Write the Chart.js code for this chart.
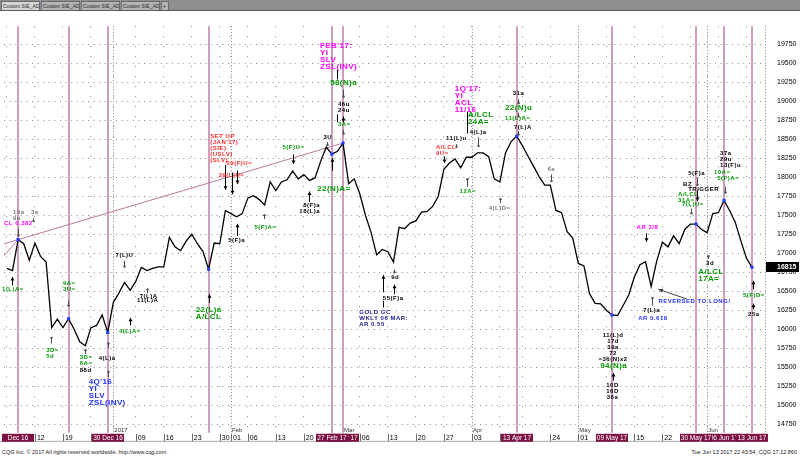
<!DOCTYPE html>
<html>
<head>
<meta charset="utf-8">
<script src="https://cdn.jsdelivr.net/npm/chart.js"></script>
<style>
html, body { margin: 0; padding: 0; background: #fff; }
#wrap { position: relative; width: 800px; height: 456px; overflow: hidden; font-family: Arial, "Liberation Sans", sans-serif; }
#tabs { position: absolute; left: 0; top: 0; width: 800px; height: 10px; background: #8e8e8e; border-bottom: 1px solid #5c5c5c; }
.tab { position: absolute; top: 1px; height: 9px; background: #b4b4b4; color: #2a2a2a; font-size: 5px; line-height: 9px; padding-left: 1px; box-sizing: border-box; border: 1px solid #6a6a6a; border-bottom: none; white-space: nowrap; overflow: hidden; }
.tab.sel { background: #d6d6d6; }
#c { position: absolute; left: 0; top: 11px; }
.foot { position: absolute; top: 449px; font-size: 5.5px; color: #222; white-space: nowrap; }
</style>
</head>
<body>
<div id="wrap">
  <div id="tabs">
    <div class="tab sel" style="left:1px;width:39px">Custom SIE_ADC</div>
    <div class="tab" style="left:41px;width:39px">Custom SIE_ADC</div>
    <div class="tab" style="left:81px;width:39px">Custom SIE_ADC</div>
    <div class="tab" style="left:121px;width:39px">Custom SIE_ADC</div>
    <div class="tab" style="left:161px;width:8px">+</div>
  </div>
  <canvas id="c" width="800" height="437"></canvas>
  <div class="foot" style="left:2px">CQG Inc. © 2017 All rights reserved worldwide. http://www.cqg.com</div>
  <div class="foot" style="right:3px">Tue Jun 13 2017 22:43:54, CQG 17.12.860</div>
</div>
<script>
// trading days (Dec 2016 - Jun 2017), MM/DD
const days = [
  '12/05','12/06','12/07','12/08','12/09','12/12','12/13','12/14','12/15','12/16',
  '12/19','12/20','12/21','12/22','12/23','12/27','12/28','12/29','12/30',
  '01/03','01/04','01/05','01/06','01/09','01/10','01/11','01/12','01/13',
  '01/16','01/17','01/18','01/19','01/20','01/23','01/24','01/25','01/26','01/27','01/30','01/31',
  '02/01','02/02','02/03','02/06','02/07','02/08','02/09','02/10','02/13','02/14','02/15','02/16','02/17',
  '02/20','02/21','02/22','02/23','02/24','02/27','02/28',
  '03/01','03/02','03/03','03/06','03/07','03/08','03/09','03/10','03/13','03/14','03/15','03/16','03/17',
  '03/20','03/21','03/22','03/23','03/24','03/27','03/28','03/29','03/30','03/31',
  '04/03','04/04','04/05','04/06','04/07','04/10','04/11','04/12','04/13',
  '04/17','04/18','04/19','04/20','04/21','04/24','04/25','04/26','04/27','04/28',
  '05/01','05/02','05/03','05/04','05/05','05/08','05/09','05/10','05/11','05/12',
  '05/15','05/16','05/17','05/18','05/19','05/22','05/23','05/24','05/25','05/26','05/29','05/30','05/31',
  '06/01','06/02','06/05','06/06','06/07','06/08','06/09','06/12','06/13'
];

// daily close
const closes = [
  16800, 16771, 17179, 17125, 16909, 17134, 16959, 16884, 16021, 16134,
  16021, 16138, 16000, 15834, 15784, 16021, 16050, 16188, 15959,
  16354, 16479, 16616, 16513, 16630, 16813, 16771, 16800, 16821,
  16821, 17209, 17084, 17034, 17159, 17250, 17125, 17021, 16791, 17134, 17125, 17563,
  17521, 17479, 17521, 17725, 17758, 17709, 17634, 17938, 17825, 17938, 17966, 18084, 17979,
  18034, 17959, 17991, 18209, 18396, 18304, 18341,
  18450, 17916, 17979, 17780, 17500, 17275, 16979, 17050, 17021, 16884, 17341, 17325, 17396,
  17425, 17541, 17550, 17616, 17750, 18104, 18188, 18241, 18125, 18263,
  18263, 18321, 18321, 18271, 17979, 17938, 18320, 18470, 18541,
  18417, 18279, 18146, 18009, 17896, 17896, 17563, 17534, 17284, 17200,
  16866, 16834, 16466, 16341, 16334, 16250, 16188, 16181, 16313, 16450,
  16688, 16850, 16888, 16563, 16900, 17146, 17084, 17229, 17125, 17313, 17384, 17384, 17313,
  17271, 17521, 17534, 17696, 17563, 17409, 17166, 16938, 16815
];

const markedDays = ['12/07','12/20','12/30','01/26','02/27','03/01','04/13','05/09','05/30','06/06','06/13'];
const boxedDays = ['12/07','12/30','02/27','03/01','04/13','05/09','05/30','06/06','06/13'];
const boxLabels = ['Dec 16','30 Dec 16','27 Feb 17','01 Mar 17','13 Apr 17','09 May 17','30 May 17','06 Jun 17','13 Jun 17'];
const monthLabels = ['2017','Feb','Mar','Apr','May','Jun'];
const priceTicks = [14750, 15000, 15250, 15500, 15750, 16000, 16250, 16500, 16750, 17000, 17250,
  17500, 17750, 18000, 18250, 18500, 18750, 19000, 19250, 19500, 19750];
const trendAnchors = ['12/07', '03/01'];
const earlyTrendStart = 16926; // one bar before the first day
const earlyTrendEnd = '12/07';

// annotations: [bar, price, text, colour, size, align]
const notes = [
  [1.09, 17537, '19a\n9u', 's', 'S'],
  [4.29, 17537, '3a', 's', 'S'],
  [-0.52, 17387, 'CL 0.382', 'm', 'S'],
  [36.3, 18537, "SET UP\n(JAN'17)\n(SIE)\n(USLV)\n(SLV)", 'r', 'S'],
  [39.2, 18187, '29(F)U=', 'r', 'S'],
  [37.8, 18025, '29(L)U=', 'r', 'S'],
  [39.5, 17175, '5(F)a', 'k', 'S'],
  [44.2, 17337, '5(F)A=', 'g', 'S'],
  [49.2, 18387, '5(F)U=', 'g', 'S'],
  [56.5, 18525, '3U', 'k', 'S'],
  [52.9, 17625, '8(F)a', 'k', 'S'],
  [52.2, 17550, '18(L)a', 'k', 'S'],
  [55.4, 17850, '22(N)A=', 'g', 'L'],
  [55.9, 19725, "FEB'17:\nYI\nSLV\nZSL(INV)", 'm', 'L'],
  [57.7, 19237, '58(N)a', 'g', 'L'],
  [59.1, 18962, '46u\n24u', 'k', 'S'],
  [59.1, 18700, '3A=', 'g', 'S'],
  [79.95, 19162, "1Q'17:\nYI\nACL\n11/16", 'm', 'L'],
  [82.3, 18825, 'A/LCL\n24A=', 'g', 'L'],
  [82.6, 18587, '4(L)a', 'k', 'S'],
  [78.4, 18512, '11(L)u', 'k', 'S'],
  [76.6, 18400, 'A/LCL\n9U=', 'r', 'S'],
  [80.8, 17812, '12A=', 'g', 'S'],
  [86.0, 17587, '4(L)D=', 's', 'S'],
  [90.3, 19100, '31a', 'k', 'S'],
  [88.9, 18912, '22(N)u', 'g', 'L'],
  [88.9, 18775, '11(L)A=', 'g', 'S'],
  [90.5, 18662, '7(L)A', 'k', 'S'],
  [96.5, 18100, '6a', 's', 'S'],
  [112.4, 17337, 'AR 3/8', 'm', 'S'],
  [116.3, 16362, 'REVERSED TO LONG!', 'b', 'S'],
  [113.6, 16250, '7(L)a', 'k', 'S'],
  [112.7, 16137, 'AR 0.618', 'b', 'S'],
  [124.8, 16862, '3d', 'k', 'S'],
  [123.4, 16762, 'A/LCL\n17A=', 'g', 'L'],
  [131.4, 16450, '5(F)D=', 'g', 'S'],
  [132.3, 16200, '25a', 'k', 'S'],
  [108.2, 15925, '11(L)d\n17d\n39a\n72\n=36(N)x2', 'k', 'S', 'center'],
  [108.3, 15525, '94(N)a', 'g', 'L', 'center'],
  [108.1, 15262, '10D\n16D\n36a', 'k', 'S', 'center'],
  [121.6, 18050, '5(F)a', 'k', 'S'],
  [120.7, 17912, 'BZ', 'k', 'S'],
  [121.6, 17837, 'TRIGGER', 'k', 'S'],
  [119.8, 17775, 'A/LCL\n31A=', 'g', 'S'],
  [120.5, 17637, '7(L)U=', 'g', 'S'],
  [127.3, 18312, '37a\n29u\n13(F)u', 'k', 'S'],
  [126.2, 18062, '10A=', 'g', 'S'],
  [126.8, 17987, '5(F)A=', 'g', 'S'],
  [-0.87, 16525, '1(L)A=', 'g', 'S'],
  [10.0, 16600, '9A=\n3U=', 'g', 'S'],
  [7.0, 15725, '3D=\n5d', 'g', 'S'],
  [13.0, 15625, '3D=\n6A=', 'g', 'S'],
  [13.0, 15462, '88d', 'k', 'S'],
  [16.4, 15612, '4(L)a', 'k', 'S'],
  [14.6, 15312, "4Q'16\nYI\nSLV\nZSL(INV)", 'b', 'L'],
  [19.4, 16975, '7(L)U', 'k', 'S'],
  [23.7, 16437, '7(L)A', 'k', 'S'],
  [23.2, 16375, '11(L)A', 'k', 'S'],
  [20.0, 15975, '4(L)A=', 'g', 'S'],
  [33.7, 16262, '22(L)a\nA/LCL', 'g', 'L'],
  [68.6, 16687, '9d', 'k', 'S'],
  [67.1, 16412, '55(F)a', 'k', 'S'],
  [62.9, 16225, 'GOLD GC\nWKLY 06 MAR:\nAR 0.50', 'n', 'S']
];

// little arrows and ticks: [bar, from price, to price, kind]  a=arrow, t=tick, l=line
const marks = [
  [2, 17325, 17237, 't'], [4.65, 17462, 17425, 't'], [0.9, 16575, 16687, 'a'],
  [10.9, 16375, 16312, 't'], [7.85, 15812, 15887, 't'], [13.9, 15675, 15725, 't'],
  [18, 15750, 15812, 't'], [18, 15375, 15437, 't'], [20.85, 16900, 16825, 't'],
  [21.9, 16050, 16150, 'a'], [24.94, 16475, 16525, 't'], [36, 16350, 16462, 'a'],
  [39, 18162, 17837, 'a'], [40.1, 18062, 17775, 'a'], [41.1, 18087, 17912, 'a'],
  [41.05, 17225, 17387, 'a'], [45.95, 17450, 17500, 't'], [51.1, 18300, 18175, 'a'],
  [57.1, 18462, 18425, 't'], [54, 17675, 17812, 'a'], [58.05, 18087, 18250, 'a'],
  [58.95, 19412, 19287, 'l'], [60, 19150, 19062, 't'], [58.95, 18825, 18725, 'l'],
  [60, 18800, 18725, 'a'], [60, 18625, 18575, 't'], [82.1, 18862, 18575, 'l'],
  [84.05, 18525, 18412, 't'], [80.1, 18437, 18400, 't'], [78, 18275, 18187, 'a'],
  [82.1, 17875, 17975, 't'], [88, 17662, 17712, 't'], [91.2, 19025, 18975, 't'],
  [91.2, 18850, 18800, 't'], [91.2, 18612, 18562, 't'], [97.2, 18037, 17950, 't'],
  [114.1, 17262, 17150, 'a'], [115.2, 16312, 16412, 't'], [125.2, 16925, 16962, 't'],
  [133.2, 16525, 16637, 'a'], [133.2, 16262, 16337, 'a'], [108.1, 15325, 15425, 'a'],
  [123.2, 18000, 17900, 't'], [123.2, 17825, 17687, 'a'], [122.1, 17587, 17525, 't'],
  [128.2, 17875, 17800, 't'], [69.1, 16787, 16750, 't'], [69.1, 16462, 16587, 'a'],
  [67.1, 16487, 16712, 'a'], [67.1, 16375, 16287, 'l']
];
const pointers = [[121.3, 16400, 116.3, 16525]];

const colours = { k: '#000000', g: '#009a00', r: '#ff2a2a', m: '#ff00ff', b: '#2233ff', n: '#1c1c8a', s: '#7a7a7a' };
const fonts = { S: 'bold 6px Arial', L: 'bold 8px Arial' };
const lineH = { S: 6, L: 7 };

const idx = d => days.indexOf(d);
const markedIdx = markedDays.map(idx);
const boxedIdx = boxedDays.map(idx);

function dateOf(d) {
  const [m, dd] = d.split('/').map(Number);
  return new Date(m === 12 ? 2016 : 2017, m - 1, dd);
}
const monthIdx = [];
const tickIdx = [0];
days.forEach((d, j) => {
  if (j === 0) return;
  const a = dateOf(days[j - 1]), b = dateOf(d);
  const newMonth = a.getMonth() !== b.getMonth();
  const newWeek = b.getDay() < a.getDay() || (b - a) >= 7 * 864e5;
  if (newMonth) monthIdx.push(j);
  if (newMonth || newWeek) tickIdx.push(j);
});

const t0 = idx(trendAnchors[0]), t1 = idx(trendAnchors[1]);
const slope = (closes[t1] - closes[t0]) / (t1 - t0);
const xMin = -0.52, xMax = 135.5;
const trendData = [{ x: xMin, y: closes[t0] + (xMin - t0) * slope }, { x: t1, y: closes[t1] }];
const earlyData = [{ x: -1, y: earlyTrendStart }, { x: idx(earlyTrendEnd), y: closes[idx(earlyTrendEnd)] }];

const cqgLayer = {
  id: 'cqgLayer',
  beforeDatasetsDraw(chart) {
    const { ctx, chartArea: a, scales: { x } } = chart;
    ctx.save();
    ctx.strokeStyle = '#8c8c8c';
    ctx.lineWidth = 1;
    ctx.setLineDash([1, 2]);
    monthIdx.forEach(j => {
      const px = Math.round(x.getPixelForValue(j)) + 0.5;
      ctx.beginPath(); ctx.moveTo(px, a.top); ctx.lineTo(px, a.bottom); ctx.stroke();
    });
    ctx.beginPath(); ctx.moveTo(a.right - 0.5, a.top); ctx.lineTo(a.right - 0.5, a.bottom); ctx.stroke();
    ctx.setLineDash([]);
    ctx.strokeStyle = '#cf9dbd';
    ctx.lineWidth = 2;
    markedIdx.forEach(j => {
      const px = Math.round(x.getPixelForValue(j));
      ctx.beginPath(); ctx.moveTo(px, a.top); ctx.lineTo(px, a.bottom); ctx.stroke();
    });
    ctx.fillStyle = '#333';
    ctx.font = '6px Arial';
    ctx.textAlign = 'left';
    ctx.textBaseline = 'alphabetic';
    monthIdx.forEach((j, k) => ctx.fillText(monthLabels[k], x.getPixelForValue(j) + 1, a.bottom - 1));
    ctx.restore();
  },
  afterDatasetsDraw(chart) {
    const { ctx, scales: { x, y } } = chart;
    ctx.save();
    // ticks and arrows
    marks.forEach(([j, p1, p2, kind]) => {
      const px = Math.round(x.getPixelForValue(j)) + 0.5;
      const y1 = y.getPixelForValue(p1), y2 = y.getPixelForValue(p2);
      const col = kind === 't' ? '#505050' : '#000';
      ctx.strokeStyle = col; ctx.fillStyle = col; ctx.lineWidth = 1;
      ctx.beginPath(); ctx.moveTo(px, y1); ctx.lineTo(px, y2); ctx.stroke();
      if (kind === 'a') {
        const d = y2 < y1 ? 1 : -1;
        ctx.beginPath(); ctx.moveTo(px, y2); ctx.lineTo(px - 2, y2 + 3.5 * d); ctx.lineTo(px + 2, y2 + 3.5 * d); ctx.closePath(); ctx.fill();
      } else if (kind === 't') {
        ctx.beginPath(); ctx.arc(px, y2, 1.2, 0, Math.PI * 2); ctx.fill();
      }
    });
    pointers.forEach(([j1, p1, j2, p2]) => {
      const x1 = x.getPixelForValue(j1), y1 = y.getPixelForValue(p1);
      const x2 = x.getPixelForValue(j2), y2 = y.getPixelForValue(p2);
      ctx.strokeStyle = '#404040'; ctx.fillStyle = '#404040'; ctx.lineWidth = 1;
      ctx.beginPath(); ctx.moveTo(x1, y1); ctx.lineTo(x2, y2); ctx.stroke();
      const ang = Math.atan2(y2 - y1, x2 - x1);
      ctx.beginPath();
      ctx.moveTo(x2, y2);
      ctx.lineTo(x2 - 5 * Math.cos(ang - 0.45), y2 - 5 * Math.sin(ang - 0.45));
      ctx.lineTo(x2 - 5 * Math.cos(ang + 0.45), y2 - 5 * Math.sin(ang + 0.45));
      ctx.closePath(); ctx.fill();
    });
    // text notes
    ctx.textBaseline = 'middle';
    notes.forEach(([j, p, text, c, s, al]) => {
      ctx.font = fonts[s];
      ctx.fillStyle = colours[c];
      ctx.letterSpacing = s === 'L' ? '0.4px' : '0.5px';
      ctx.textAlign = al || 'left';
      const px = x.getPixelForValue(j), py = y.getPixelForValue(p);
      text.split('\n').forEach((ln, k) => ctx.fillText(ln, px, py + k * lineH[s]));
    });
    ctx.restore();
  },
  afterDraw(chart) {
    const { ctx, chartArea: a, scales: { x, y } } = chart;
    ctx.save();
    const top = a.bottom, h = 9;
    ctx.strokeStyle = '#6a6a6a'; ctx.lineWidth = 1;
    x.ticks.forEach(t => {
      const px = Math.round(x.getPixelForValue(t.value)) + 0.5;
      ctx.beginPath(); ctx.moveTo(px, top + 1); ctx.lineTo(px, top + h); ctx.stroke();
    });
    ctx.strokeStyle = '#a8a8a8';
    ctx.beginPath(); ctx.moveTo(0, top + h - 0.5); ctx.lineTo(a.right, top + h - 0.5); ctx.stroke();
    // highlighted date boxes
    const order = boxedIdx.map((_, k) => k).reverse();
    order.push(order.shift());
    ctx.font = '6.5px Arial';
    ctx.textAlign = 'center';
    ctx.textBaseline = 'middle';
    order.forEach(k => {
      const cx = Math.round(x.getPixelForValue(boxedIdx[k]));
      ctx.fillStyle = '#7c1242';
      ctx.fillRect(cx - 16, top + 1, 32, h - 1);
      ctx.fillStyle = '#fff';
      ctx.fillText(boxLabels[k], cx, top + 5);
    });
    // last price box
    const last = closes.length - 1;
    const py = Math.round(y.getPixelForValue(closes[last]));
    ctx.fillStyle = '#000';
    ctx.fillRect(a.right, py - 5, 33, 10);
    ctx.fillStyle = '#fff';
    ctx.font = 'bold 7px Arial';
    ctx.textAlign = 'left';
    ctx.fillText(String(closes[last]), a.right + 11, py);
    ctx.restore();
  }
};

new Chart(document.getElementById('c'), {
  type: 'line',
  data: {
    datasets: [
      {
        data: closes.map((v, j) => ({ x: j, y: v })),
        borderColor: '#000',
        borderWidth: 1.3,
        tension: 0,
        pointStyle: 'rect',
        pointRadius: c => markedIdx.includes(c.dataIndex) ? 2.2 : 0,
        pointBackgroundColor: '#1f3dff',
        pointBorderWidth: 0,
        order: 0
      },
      { data: trendData, borderColor: '#b87a9c', borderWidth: 1, pointRadius: 0, order: 1 },
      { data: earlyData, borderColor: '#b87a9c', borderWidth: 1, pointRadius: 0, order: 1 }
    ]
  },
  options: {
    responsive: false,
    animation: false,
    events: [],
    layout: { padding: { left: 2, top: 0, right: 0, bottom: 0 } },
    plugins: { legend: { display: false }, tooltip: { enabled: false } },
    scales: {
      x: {
        type: 'linear',
        min: xMin,
        max: xMax,
        position: 'bottom',
        afterBuildTicks: s => { s.ticks = tickIdx.map(v => ({ value: v })); },
        afterFit: s => { s.height = 9; },
        ticks: {
          autoSkip: false, maxRotation: 0, minRotation: 0, align: 'start', labelOffset: 2, padding: 1,
          color: '#000', font: { family: 'Arial', size: 7 },
          callback: v => days[v] ? days[v].slice(3) : ''
        },
        grid: { color: '#8c8c8c', drawTicks: false, lineWidth: 1 },
        border: { display: false, dash: [1, 9] }
      },
      y: {
        position: 'right',
        min: 14637.5,
        max: 19987.5,
        afterBuildTicks: s => { s.ticks = priceTicks.map(v => ({ value: v })); },
        afterFit: s => { s.width = 34; },
        ticks: { padding: 11, color: '#000', font: { family: 'Arial', size: 7 }, callback: v => String(v) },
        grid: { color: '#8c8c8c', drawTicks: false, lineWidth: 1 },
        border: { display: false, dash: [1, 4.6] }
      }
    }
  },
  plugins: [cqgLayer]
});
</script>
</body>
</html>
